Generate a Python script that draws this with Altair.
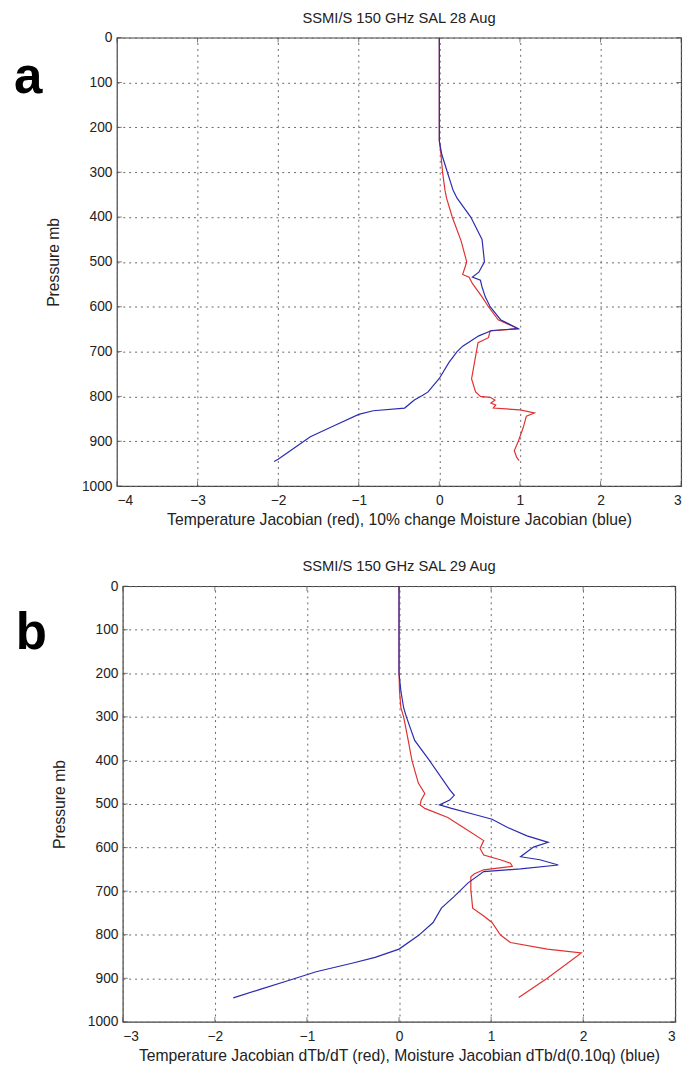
import altair as alt
import pandas as pd

# ---------------- Panel a (28 Aug) ----------------
a_red_p = [0, 100, 200, 230, 260, 300, 340, 358, 400, 453, 500, 528, 534, 548, 578, 600, 629, 649,
           654, 669, 680, 700, 761, 790, 800, 802, 808, 815, 819, 826, 830, 837, 844, 870, 900, 921, 936, 943]
a_red_v = [0, 0, 0, 0.0, 0.02, 0.04, 0.07, 0.09, 0.16, 0.27, 0.34, 0.29, 0.37, 0.41, 0.53, 0.61, 0.73, 0.98,
           0.63, 0.61, 0.48, 0.46, 0.40, 0.45, 0.51, 0.63, 0.69, 0.64, 0.70, 0.67, 1.0, 1.18, 1.08, 1.04, 0.98, 0.93, 0.96, 0.99]

a_blue_p = [0, 100, 200, 230, 260, 300, 340, 358, 400, 450, 500, 523, 534, 541, 556, 578, 600, 629, 649,
            653, 665, 688, 700, 724, 760, 790, 797, 808, 826, 832, 840, 865, 890, 915, 940, 945]
a_blue_v = [0, 0, 0, 0, 0.03, 0.10, 0.17, 0.22, 0.39, 0.53, 0.56, 0.49, 0.41, 0.51, 0.53, 0.57, 0.63, 0.76, 0.98,
            0.65, 0.49, 0.29, 0.22, 0.12, 0.0, -0.14, -0.20, -0.31, -0.43, -0.82, -1.0, -1.3, -1.6, -1.8, -2.0, -2.05]

# ---------------- Panel b (29 Aug) ----------------
b_red_p = [0, 100, 200, 240, 279, 300, 354, 400, 452, 476, 491, 502, 510, 531, 561, 584, 602, 617, 628, 636,
           643, 651, 660, 667, 697, 739, 757, 772, 800, 818, 833, 842, 900, 944]
b_red_v = [0, 0, 0, 0.005, 0.02, 0.05, 0.10, 0.14, 0.21, 0.28, 0.24, 0.23, 0.28, 0.53, 0.75, 0.92, 0.88, 0.92, 1.10, 1.21,
           1.23, 0.92, 0.82, 0.78, 0.78, 0.80, 0.92, 1.01, 1.10, 1.21, 1.61, 1.98, 1.61, 1.30]

b_blue_p = [0, 100, 200, 240, 279, 300, 354, 400, 467, 480, 491, 502, 510, 524, 535, 554, 573, 588, 599, 621,
            628, 640, 649, 655, 681, 712, 739, 772, 802, 833, 852, 865, 885, 905, 925, 945]
b_blue_v = [0, 0, 0, 0.02, 0.05, 0.08, 0.17, 0.33, 0.55, 0.60, 0.55, 0.44, 0.57, 0.82, 1.01, 1.18, 1.39, 1.62, 1.46, 1.32,
            1.53, 1.73, 1.32, 0.92, 0.75, 0.60, 0.46, 0.37, 0.21, 0.0, -0.26, -0.5, -0.9, -1.2, -1.5, -1.8]

series_names = ["red", "blue"]
series_colors = ["#e0302f", "#2b2bb0"]
pressure_ticks = list(range(0, 1001, 100))

FONT = "Liberation Sans"
TICK_COLOR = "#444"


def make_df(red_p, red_v, blue_p, blue_v):
    rows = []
    for i, (p, v) in enumerate(zip(red_p, red_v)):
        rows.append({"s": "red", "i": i, "p": p, "v": v})
    for i, (p, v) in enumerate(zip(blue_p, blue_v)):
        rows.append({"s": "blue", "i": i, "p": p, "v": v})
    return pd.DataFrame(rows)


def panel(df, xmin, xmax, width, height, title, xtitle, letter, lx, ly):
    xvals = list(range(xmin, xmax + 1))
    xscale = alt.Scale(domain=[xmin, xmax], nice=False, zero=False)
    yscale = alt.Scale(domain=[0, 1000], reverse=True, nice=False, zero=False)
    xaxis = alt.Axis(values=xvals, title=xtitle, format="d", labelPadding=8, titlePadding=4)
    yaxis = alt.Axis(values=pressure_ticks, title="Pressure mb", format="d", labelPadding=5, titlePadding=20)

    lines = alt.Chart(df).mark_line(strokeWidth=1.2).encode(
        x=alt.X("v:Q", scale=xscale, axis=xaxis),
        y=alt.Y("p:Q", scale=yscale, axis=yaxis),
        color=alt.Color("s:N", scale=alt.Scale(domain=series_names, range=series_colors), legend=None),
        order="i:Q",
    )

    # MATLAB-style inward ticks on all four sides
    xt = pd.DataFrame({"v": xvals})
    yt = pd.DataFrame({"p": pressure_ticks})
    xtick_top = alt.Chart(xt).mark_tick(color=TICK_COLOR, size=5, thickness=1).encode(
        x=alt.X("v:Q", scale=xscale, axis=xaxis), y=alt.value(2.5))
    xtick_bot = alt.Chart(xt).mark_tick(color=TICK_COLOR, size=5, thickness=1).encode(
        x=alt.X("v:Q", scale=xscale, axis=xaxis), y=alt.value(height - 2.5))
    ytick_l = alt.Chart(yt).mark_tick(color=TICK_COLOR, size=5, thickness=1).encode(
        y=alt.Y("p:Q", scale=yscale, axis=yaxis), x=alt.value(2.5))
    ytick_r = alt.Chart(yt).mark_tick(color=TICK_COLOR, size=5, thickness=1).encode(
        y=alt.Y("p:Q", scale=yscale, axis=yaxis), x=alt.value(width - 2.5))

    lab = alt.Chart(pd.DataFrame({"t": [letter]})).mark_text(
        align="left", baseline="alphabetic", fontSize=52, fontWeight="bold", font=FONT, color="black"
    ).encode(x=alt.value(lx), y=alt.value(ly), text="t:N")

    return alt.layer(lines, xtick_top, xtick_bot, ytick_l, ytick_r, lab).properties(
        width=width, height=height,
        title=alt.TitleParams(title, fontSize=15, fontWeight="normal", font=FONT, color="#222",
                              offset=5, anchor="middle", frame="group"),
    )


pa = panel(make_df(a_red_p, a_red_v, a_blue_p, a_blue_v), -4, 3, 575, 457,
           "SSMI/S 150 GHz SAL 28 Aug",
           "Temperature Jacobian (red), 10% change Moisture Jacobian (blue)", "a", -105, 56)
pb = panel(make_df(b_red_p, b_red_v, b_blue_p, b_blue_v), -3, 3, 563, 444,
           "SSMI/S 150 GHz SAL 29 Aug",
           "Temperature Jacobian dTb/dT (red), Moisture Jacobian dTb/d(0.10q) (blue)", "b", -109, 64)

chart = alt.vconcat(pa, pb, spacing=102, bounds="flush", center=True).properties(
    padding={"left": 5, "top": -8, "right": 5, "bottom": 5},
    background="white",
).configure_view(
    stroke="#444", strokeWidth=1.2
).configure_axis(
    labelFont=FONT, labelFontSize=14, labelColor="#222",
    titleFont=FONT, titleFontSize=16, titleFontWeight="normal", titleColor="#222",
    domain=False, ticks=False, tickSize=0,
    grid=True, gridColor="#666", gridDash=[2, 4], gridWidth=1, gridOpacity=1,
)

chart.save("out.html", embed_options={"renderer": "svg", "actions": False})
